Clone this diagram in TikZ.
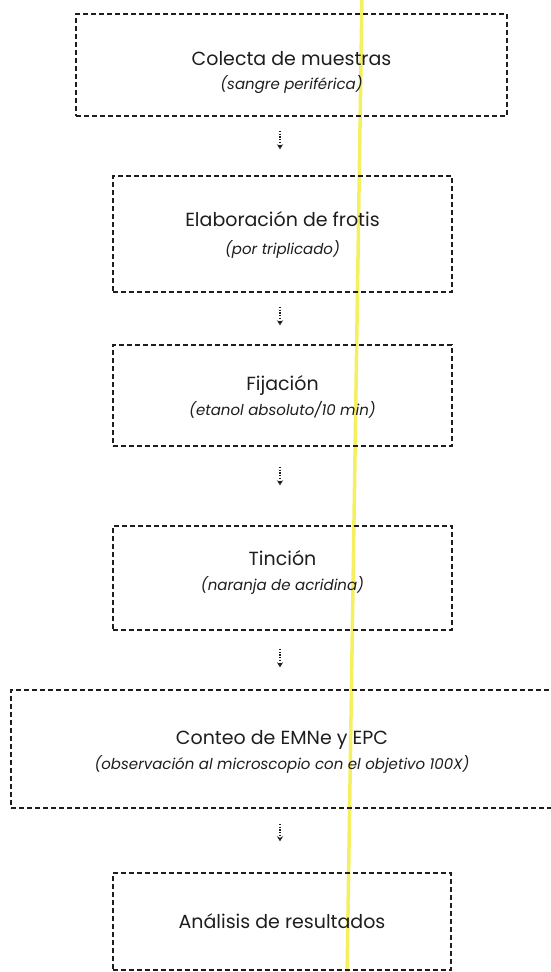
\documentclass[tikz,border=0pt]{standalone}
\usepackage{fontspec}
\setmainfont{Poppins}
\usetikzlibrary{arrows.meta}
\definecolor{hilite}{RGB}{244,240,96}
\definecolor{ink}{RGB}{30,30,30}
\tikzset{
  stepbox/.style={draw=ink, line width=1.4pt, dash pattern=on 5pt off 3pt,
    rectangle, inner sep=0pt},
  ttl/.style={anchor=base, inner sep=0pt, text=ink,
    font=\fontsize{19}{21}\selectfont},
  sbt/.style={anchor=base, inner sep=0pt, text=ink,
    font=\fontsize{15}{17}\selectfont\itshape},
  flow/.style={draw=ink, line width=1.1pt, dash pattern=on 1.2pt off 1.6pt,
    -{Stealth[length=5pt,width=6pt]}}
}
\begin{document}
\begin{tikzpicture}[x=1pt,y=-1pt]
\useasboundingbox (0,0) rectangle (551,972);
\clip (0,0) rectangle (551,972);
\fill[white] (0,0) rectangle (551,972);
\draw[hilite, line width=3.5pt] (362,-5) -- (347,980);
\coordinate (ax) at (280,0);
% boxes
\node[stepbox, minimum width=431pt, minimum height=102pt] (b1) at (291.5,65) {};
\node[stepbox, minimum width=339pt, minimum height=116pt] (b2) at (282.5,234) {};
\node[stepbox, minimum width=339pt, minimum height=101pt] (b3) at (282.5,395.5) {};
\node[stepbox, minimum width=339pt, minimum height=104pt] (b4) at (282.5,578) {};
\node[stepbox, minimum width=542pt, minimum height=118pt] (b5) at (282,749) {};
\node[stepbox, minimum width=338pt, minimum height=97pt] (b6) at (282,921.5) {};
% texts
\node[ttl] (t1) at (291.5,65) {Colecta de muestras};
\node[sbt] (s1) at (291.5,89) {(sangre periférica)};
\node[ttl] (t2) at (282.5,226) {Elaboración de frotis};
\node[sbt] (s2) at (282.5,254) {(por triplicado)};
\node[ttl] (t3) at (282.5,390) {Fijación};
\node[sbt] (s3) at (282.5,415) {(etanol absoluto/10 min)};
\node[ttl] (t4) at (282.5,565) {Tinción};
\node[sbt] (s4) at (282.5,590) {(naranja de acridina)};
\node[ttl] (t5) at (282,744) {Conteo de EMNe y EPC};
\node[sbt] (s5) at (282,769) {(observación al microscopio con el objetivo 100X)};
\node[ttl] (t6) at (282,928) {Análisis de resultados};
% connectors
\draw[flow, shorten <=14pt, shorten >=26pt] (b1.south -| ax) -- (b2.north -| ax);
\draw[flow, shorten <=14pt, shorten >=19pt] (b2.south -| ax) -- (b3.north -| ax);
\draw[flow, shorten <=20pt, shorten >=40pt] (b3.south -| ax) -- (b4.north -| ax);
\draw[flow, shorten <=18pt, shorten >=22pt] (b4.south -| ax) -- (b5.north -| ax);
\draw[flow, shorten <=15pt, shorten >=31pt] (b5.south -| ax) -- (b6.north -| ax);
\end{tikzpicture}
\end{document}
